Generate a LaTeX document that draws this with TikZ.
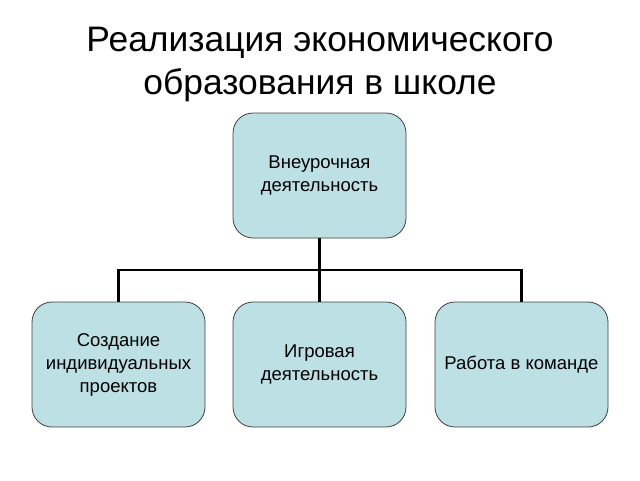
\documentclass[tikz,border=0pt]{standalone}
\usepackage{fontspec}
\setmainfont{Liberation Sans}
\definecolor{boxfill}{HTML}{BDE0E4}
\definecolor{boxline}{HTML}{404040}
\begin{document}
\begin{tikzpicture}[x=1pt,y=-1pt,
  orgbox/.style={draw=boxline, line width=0.8pt, fill=boxfill, rounded corners=20pt,
    minimum width=173pt, minimum height=125pt, inner sep=2pt, align=center,
    font=\fontsize{18.5}{23}\selectfont},
  link/.style={line width=2.2pt, black}]
\useasboundingbox (0,0) rectangle (640,480);
\node[font=\fontsize{35.4}{43}\selectfont, align=center] (title) at (320,64)
  {Реализация экономического\\образования в школе};
\node[orgbox] (top) at (319.5,175.5) {Внеурочная\\деятельность};
\node[orgbox] (left) at (118.5,364.5) {Создание\\индивидуальных\\проектов};
\node[orgbox] (mid) at (319.5,364.5) {Игровая\\деятельность};
\node[orgbox] (right) at (521.5,364.5) {Работа в команде};
\coordinate (bus) at (319.5,270);
\draw[link] (top.south) -- (bus);
\draw[link] (left.north) |- (bus) -| (right.north);
\draw[link] (bus) -- (mid.north);
\end{tikzpicture}
\end{document}
